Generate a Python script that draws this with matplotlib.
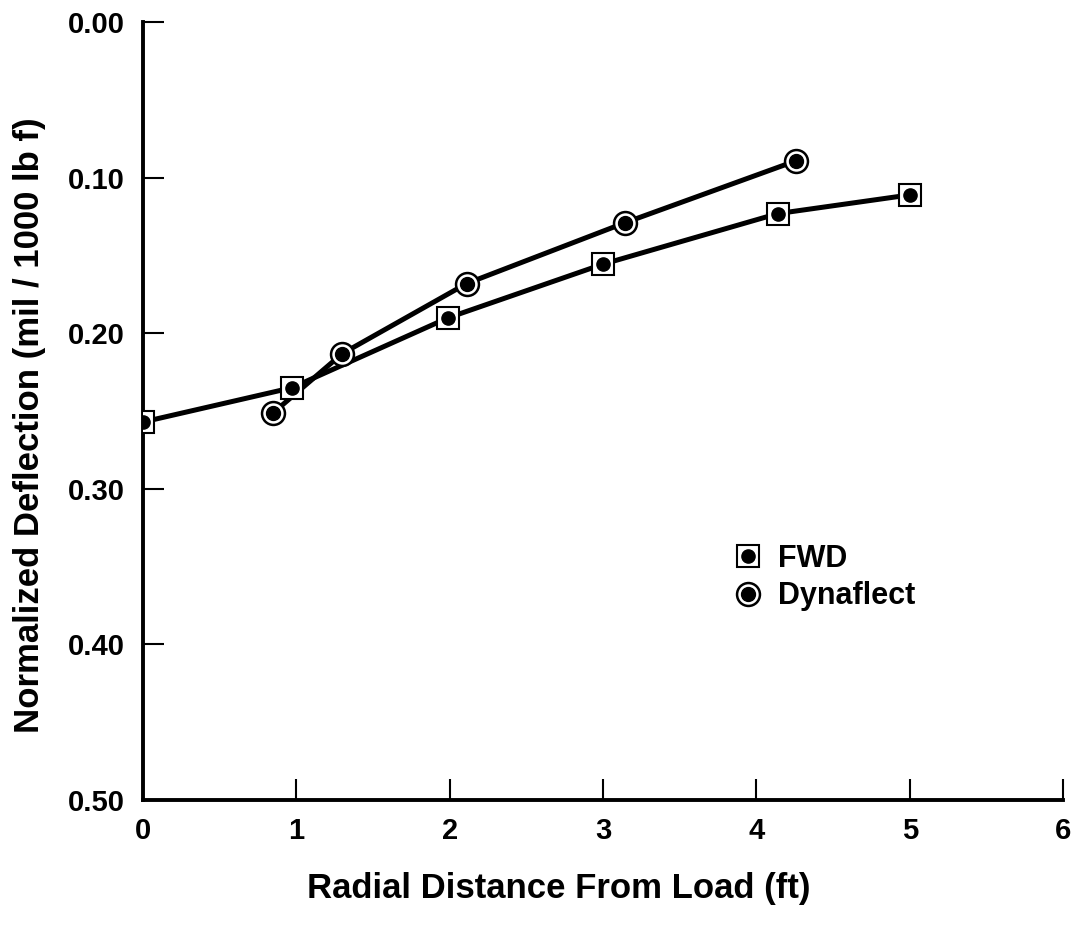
import matplotlib
matplotlib.use("Agg")
import matplotlib.pyplot as plt
from matplotlib.lines import Line2D

fwd_x = [0.0, 0.97, 1.99, 3.0, 4.14, 5.0]
fwd_y = [0.257, 0.235, 0.190, 0.1555, 0.123, 0.111]
dyn_x = [0.85, 1.30, 2.11, 3.14, 4.26]
dyn_y = [0.251, 0.213, 0.168, 0.129, 0.089]
x_ticks = [0, 1, 2, 3, 4, 5, 6]
y_ticks = [0.0, 0.1, 0.2, 0.3, 0.4, 0.5]
y_labels = ["0.00", "0.10", "0.20", "0.30", "0.40", "0.50"]

plt.rcParams['font.family'] = ['Liberation Sans', 'DejaVu Sans']
plt.rcParams['font.weight'] = 'bold'
plt.rcParams['axes.labelweight'] = 'bold'

fig = plt.figure(figsize=(10.8, 9.27), dpi=100)
ax = fig.add_axes([0.1324, 0.137, 0.852, 0.839])

lw = 3.6
ax.plot(fwd_x, fwd_y, color='black', lw=lw, zorder=2)
ax.plot(dyn_x, dyn_y, color='black', lw=lw, zorder=2)
ax.plot(fwd_x, fwd_y, ls='none', marker='s', ms=16, mfc='white', mec='black', mew=1.5, zorder=3)
ax.plot(fwd_x, fwd_y, ls='none', marker='o', ms=9.5, mfc='black', mec='black', zorder=4)
ax.plot(dyn_x, dyn_y, ls='none', marker='o', ms=16.5, mfc='white', mec='black', mew=1.8, zorder=3)
ax.plot(dyn_x, dyn_y, ls='none', marker='o', ms=10, mfc='black', mec='black', zorder=4)

ax.set_xlim(0, 6)
ax.set_ylim(0.5, 0.0)
ax.set_xticks(x_ticks)
ax.set_xticklabels([str(t) for t in x_ticks])
ax.set_yticks(y_ticks)
ax.set_yticklabels(y_labels)
ax.tick_params(direction='in', length=15, width=1.5, labelsize=21)
ax.tick_params(axis='y', pad=13)
ax.tick_params(axis='x', pad=12)
for s in ['top', 'right']:
    ax.spines[s].set_visible(False)
for s in ['left', 'bottom']:
    ax.spines[s].set_linewidth(2.8)

ax.set_xlabel('Radial Distance From Load (ft)', fontsize=25)
ax.xaxis.set_label_coords(0.452, -0.093)
ax.set_ylabel('Normalized Deflection (mil / 1000 lb f)', fontsize=25)
ax.yaxis.set_label_coords(-0.105, 0.482)

h_fwd = (Line2D([], [], ls='none', marker='s', ms=16, mfc='white', mec='black', mew=1.5),
         Line2D([], [], ls='none', marker='o', ms=9.5, mfc='black', mec='black'))
h_dyn = (Line2D([], [], ls='none', marker='o', ms=16.5, mfc='white', mec='black', mew=1.8),
         Line2D([], [], ls='none', marker='o', ms=10, mfc='black', mec='black'))
ax.legend([h_fwd, h_dyn], ['FWD', 'Dynaflect'], loc='upper left',
          bbox_to_anchor=(0.614, 0.365), frameon=False, fontsize=22,
          handlelength=0.8, handletextpad=0.6, labelspacing=0.25)

fig.savefig('out.png', dpi=100)
